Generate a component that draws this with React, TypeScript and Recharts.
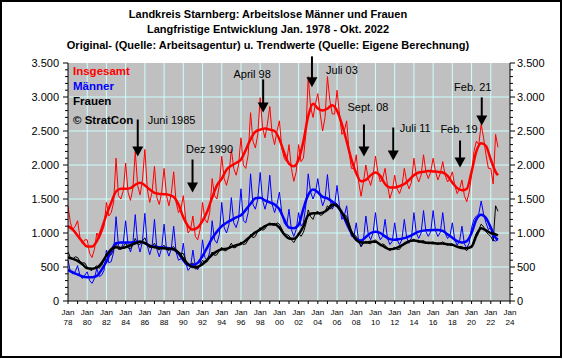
import React from 'react'
import { LineChart, Line, XAxis, YAxis, CartesianGrid, ReferenceDot } from 'recharts'

// monthly originals, sampled Jan / Apr / Jul / Oct, from Jan 1978 to Oct 2022
const rawTotal = [
  1400, 1150, 1050, 1100, // 1978
  1180, 930, 850, 900,
  900, 700, 640, 760, // 1980
  1000, 920, 1000, 1100,
  1450, 1250, 1300, 1450,
  2100, 1550, 1500, 1620,
  2030, 1600, 1480, 1650,
  2200, 1700, 1560, 1780, // 1985
  2230, 1650, 1450, 1600,
  1980, 1520, 1420, 1600,
  1950, 1550, 1400, 1580,
  1900, 1450, 1300, 1350,
  1550, 1200, 1000, 1050, // 1990
  1250, 950, 900, 1050,
  1450, 1200, 1150, 1300,
  1800, 1550, 1500, 1700,
  2130, 1800, 1700, 1850,
  2230, 1950, 1850, 2000, // 1995
  2400, 2000, 1950, 2150,
  2770, 2350, 2250, 2450,
  2990, 2550, 2400, 2600,
  2860, 2450, 2300, 2500,
  2650, 2250, 2100, 2050, // 2000
  2300, 1950, 1760, 1900,
  2300, 2050, 2100, 2450,
  3300, 2850, 2700, 2900,
  3050, 2750, 2500, 2700,
  3300, 2950, 2750, 2750, // 2005
  3100, 2750, 2450, 2500,
  2650, 2200, 1950, 1950,
  2150, 1750, 1540, 1750,
  2000, 1800, 1700, 1850,
  2130, 1900, 1750, 1800, // 2010
  1950, 1700, 1510, 1620,
  1850, 1650, 1580, 1680,
  1950, 1750, 1650, 1750,
  2100, 1850, 1750, 1850,
  2150, 1900, 1800, 1900, // 2015
  2100, 1900, 1780, 1880,
  2050, 1850, 1750, 1800,
  1900, 1700, 1580, 1650,
  1780, 1550, 1460, 1600,
  1850, 2200, 2350, 2300, // 2020
  2600, 2400, 2150, 1950,
  1950, 1720, 2450, 2260
]

const rawMen = [
  600, 430, 400, 430, // 1978
  520, 370, 330, 380,
  430, 300, 260, 330, // 1980
  480, 360, 380, 450,
  750, 560, 580, 720,
  1240, 820, 760, 850,
  1180, 830, 720, 850,
  1270, 850, 720, 880, // 1985
  1290, 820, 680, 800,
  1200, 760, 650, 780,
  1130, 760, 660, 770,
  1100, 720, 600, 620,
  850, 560, 450, 500, // 1990
  750, 500, 460, 530,
  900, 640, 600, 720,
  1180, 900, 850, 980,
  1450, 1080, 1000, 1120,
  1520, 1150, 1080, 1200, // 1995
  1650, 1180, 1150, 1300,
  1870, 1420, 1350, 1500,
  1890, 1480, 1350, 1480,
  1850, 1420, 1300, 1420,
  1600, 1300, 1150, 1100, // 2000
  1350, 1050, 950, 1050,
  1300, 1100, 1150, 1400,
  1870, 1600, 1500, 1600,
  1800, 1550, 1400, 1500,
  1860, 1500, 1350, 1420, // 2005
  1700, 1400, 1200, 1250,
  1400, 1100, 950, 950,
  1150, 880, 800, 900,
  1250, 980, 900, 1000,
  1300, 1000, 900, 950, // 2010
  1200, 920, 830, 880,
  1150, 900, 830, 900,
  1200, 930, 850, 930,
  1300, 1000, 920, 1000,
  1330, 1020, 950, 1020, // 2015
  1330, 1030, 950, 1010,
  1300, 1000, 920, 960,
  1150, 900, 820, 880,
  1100, 840, 780, 850,
  1080, 1200, 1250, 1280, // 2020
  1470, 1280, 1150, 1050,
  1080, 900, 880, 900
]

const rawWomen = [
  720, 640, 620, 650, // 1978
  640, 580, 560, 560,
  500, 460, 450, 490, // 1980
  520, 480, 520, 600,
  700, 660, 680, 760,
  850, 760, 760, 800,
  850, 780, 770, 830,
  920, 840, 830, 880, // 1985
  930, 830, 780, 810,
  850, 770, 750, 790,
  820, 760, 740, 780,
  800, 740, 720, 700,
  700, 600, 520, 540, // 1990
  560, 470, 480, 520,
  600, 560, 580, 650,
  720, 670, 680, 740,
  790, 740, 740, 790,
  850, 780, 790, 830, // 1995
  870, 830, 840, 900,
  980, 930, 950, 1030,
  1080, 1040, 1060, 1120,
  1150, 1120, 1110, 1150,
  1130, 1060, 990, 980, // 2000
  960, 900, 860, 920,
  1000, 950, 1010, 1130,
  1340, 1240, 1200, 1300,
  1320, 1260, 1270, 1310,
  1400, 1350, 1380, 1450, // 2005
  1430, 1360, 1290, 1270,
  1250, 1150, 1030, 980,
  950, 880, 800, 850,
  880, 850, 840, 880,
  900, 860, 820, 840, // 2010
  820, 770, 740, 770,
  790, 760, 760, 810,
  850, 850, 860, 890,
  910, 880, 860, 880,
  890, 860, 840, 860, // 2015
  870, 850, 830, 850,
  870, 840, 820, 840,
  840, 820, 790, 800,
  800, 770, 740, 790,
  780, 900, 1000, 1050, // 2020
  1130, 1090, 1020, 980,
  950, 880, 1400, 1320
]

// trend values, every half year from 1978.0 to 2022.5, last point Oct 2022
const trendTotal = [
  1100, 1050, 960, 870, 800, 800, 880, 1060, 1270, 1450,
  1610, 1650, 1650, 1660, 1710, 1740, 1700, 1640, 1590, 1575,
  1570, 1560, 1530, 1420, 1230, 1100, 1050, 1080, 1180, 1320,
  1520, 1700, 1800, 1930, 1990, 2030, 2080, 2220, 2380, 2490,
  2520, 2535, 2520, 2500, 2380, 2180, 2020, 1980, 2080, 2350,
  2720, 2900, 2830, 2800, 2830, 2880, 2800, 2600, 2350, 2080,
  1880, 1760, 1780, 1850, 1890, 1840, 1720, 1670, 1670, 1690,
  1720, 1780, 1850, 1890, 1900, 1910, 1905, 1900, 1890, 1840,
  1740, 1660, 1630, 1650, 1900, 2200, 2320, 2280, 2080, 1900,
  1850
]

const trendMen = [
  460, 420, 390, 360, 350, 350, 370, 460, 580, 740,
  850, 860, 860, 860, 865, 870, 850, 815, 800, 790,
  785, 775, 760, 700, 600, 530, 530, 560, 660, 790,
  920, 1020, 1100, 1150, 1190, 1230, 1260, 1340, 1430, 1510,
  1520, 1480, 1450, 1420, 1350, 1200, 1080, 1070, 1120, 1360,
  1560, 1640, 1600, 1530, 1510, 1460, 1400, 1300, 1140, 1000,
  910, 890, 940, 1000, 1020, 1000, 950, 910, 900, 910,
  925, 950, 985, 1020, 1035, 1040, 1045, 1045, 1030, 980,
  930, 880, 860, 880, 1000, 1200, 1270, 1220, 1080, 930,
  900
]

const trendWomen = [
  640, 620, 590, 540, 480, 475, 490, 560, 670, 760,
  790, 780, 790, 820, 850, 870, 850, 810, 790, 780,
  775, 770, 760, 710, 620, 540, 500, 505, 540, 610,
  680, 730, 760, 770, 795, 820, 840, 890, 950, 1010,
  1050, 1100, 1130, 1130, 1080, 980, 920, 915, 980, 1100,
  1260, 1290, 1290, 1300, 1340, 1420, 1400, 1300, 1180, 1010,
  900, 860, 860, 870, 870, 830, 790, 760, 770, 800,
  840, 880, 890, 880, 865, 855, 850, 845, 845, 835,
  825, 800, 780, 775, 800, 960, 1070, 1040, 1000, 980,
  965
]

const yTicks = Array.from({ length: 36 }, (_, i) => i * 100)
const yearTicks = Array.from({ length: 47 }, (_, i) => 1978 + i)
const gridValues = [500, 1000, 1500, 2000, 2500, 3000]
const gridYears = [1980, 1982, 1984, 1986, 1988, 1990, 1992, 1994, 1996, 1998, 2000,
  2002, 2004, 2006, 2008, 2010, 2012, 2014, 2016, 2018, 2020, 2022]

const titleLines = [
  'Landkreis Starnberg: Arbeitslose Männer und Frauen',
  'Langfristige Entwicklung Jan. 1978 - Okt. 2022',
  'Original- (Quelle: Arbeitsagentur) u. Trendwerte (Quelle: Eigene Berechnung)'
]

const legendItems = [
  { text: 'Insgesamt', color: '#ff0000' },
  { text: 'Männer', color: '#0000ff' },
  { text: 'Frauen', color: '#000000' },
  { text: '© StratCon', color: '#000000' }
]

// arrow annotations: label, time, value at arrow tip
const annoLabels = ['Juni 1985', 'Dez 1990', 'April 98', 'Juli 03', 'Sept. 08', 'Juli 11', 'Feb. 19', 'Feb. 21']
const annoTimes = [1985.26, 1990.96, 1998.31, 2003.39, 2008.8, 2011.85, 2018.8, 2021.06]
const annoTips = [2125, 1595, 2773, 3142, 2125, 2066, 1963, 2582]
// layout (px): shaft length, label offset from tip, anchor
const annoLayout = [
  { shaft: 37, dx: 10, dy: -37, anchor: 'start' },
  { shaft: 33, dx: 17, dy: -44, anchor: 'middle' },
  { shaft: 33, dx: -11, dy: -38, anchor: 'middle' },
  { shaft: 31, dx: 30, dy: -17, anchor: 'middle' },
  { shaft: 32, dx: 4, dy: -50, anchor: 'middle' },
  { shaft: 33, dx: 22, dy: -33, anchor: 'middle' },
  { shaft: 27, dx: -1, dy: -39, anchor: 'middle' },
  { shaft: 28, dx: -9, dy: -38, anchor: 'middle' }
]

const START = 1978
const FONT = '"Liberation Sans", Arial, sans-serif'

const rawRows = rawTotal.map((v, i) => ({
  t: START + i / 4,
  total: v,
  men: rawMen[i],
  women: rawWomen[i]
}))

const trendRows = trendTotal.map((v, i) => ({
  t: i < 90 ? START + i / 2 : 2022.75,
  total: v,
  men: trendMen[i],
  women: trendWomen[i]
}))

const fmt = (v: number) =>
  v >= 1000 ? `${Math.floor(v / 1000)}.${String(v % 1000).padStart(3, '0')}` : String(v)

const LeftTick = (props: any) => {
  const { x, y, payload } = props
  const major = payload.value % 500 === 0
  return (
    <g>
      <line x1={x - (major ? 5 : 3)} x2={x} y1={y} y2={y} stroke='#000' />
      {major && (
        <text x={x - 9} y={y} textAnchor='end' dominantBaseline='central'
          fontSize={11} fontFamily={FONT} fill='#000'>
          {fmt(payload.value)}
        </text>
      )}
    </g>
  )
}

const RightTick = (props: any) => {
  const { x, y, payload } = props
  const major = payload.value % 500 === 0
  return (
    <g>
      <line x1={x} x2={x + (major ? 5 : 3)} y1={y} y2={y} stroke='#000' />
      {major && (
        <text x={x + 7} y={y} textAnchor='start' dominantBaseline='central'
          fontSize={11} fontFamily={FONT} fill='#000'>
          {fmt(payload.value)}
        </text>
      )}
    </g>
  )
}

const BottomTick = (props: any) => {
  const { x, y, payload } = props
  const year = payload.value
  const labelled = year % 2 === 0
  return (
    <g>
      <line x1={x} x2={x} y1={y} y2={y + 3} stroke='#000' />
      {labelled && (
        <text x={x} textAnchor='middle' fontSize={8} fontFamily={FONT} fill='#000'>
          <tspan x={x} y={y + 14}>Jan</tspan>
          <tspan x={x} y={y + 24}>{String(year % 100).padStart(2, '0')}</tspan>
        </text>
      )}
    </g>
  )
}

const Arrow = ({ cx, cy, label, layout }: any) => {
  const { shaft, dx, dy, anchor } = layout
  return (
    <g>
      <line x1={cx} x2={cx} y1={cy - shaft} y2={cy - 8} stroke='#000' strokeWidth={2} />
      <path d={`M${cx - 5.5},${cy - 10} L${cx + 5.5},${cy - 10} L${cx},${cy} Z`} fill='#000' />
      <text x={cx + dx} y={cy + dy} textAnchor={anchor} dominantBaseline='central'
        fontSize={11} fontFamily={FONT} fill='#000'>
        {label}
      </text>
    </g>
  )
}

export default function App() {
  return (
    <div style={{ position: 'relative', width: 563, height: 359, background: '#fff', fontFamily: FONT }}>
      <style>{'body{margin:0}'}</style>
      <div style={{ position: 'absolute', left: 0, top: 0 }}>
        <LineChart width={563} height={359} margin={{ top: 63, right: 8, bottom: 8, left: 8 }}>
          <CartesianGrid
            yAxisId='l'
            fill='#c0c0c0'
            fillOpacity={1}
            stroke='#ccffff'
            strokeWidth={1}
            horizontalValues={gridValues}
            verticalValues={gridYears}
          />
          <XAxis
            dataKey='t'
            type='number'
            domain={[1978, 2024]}
            ticks={yearTicks}
            interval={0}
            allowDataOverflow
            tickSize={0}
            tickMargin={0}
            height={50}
            axisLine={{ stroke: '#000' }}
            tick={<BottomTick />}
          />
          <YAxis
            yAxisId='l'
            type='number'
            domain={[0, 3500]}
            ticks={yTicks}
            interval={0}
            allowDataOverflow
            tickSize={0}
            tickMargin={0}
            width={60}
            axisLine={{ stroke: '#000' }}
            tick={<LeftTick />}
          />
          <YAxis
            yAxisId='r'
            orientation='right'
            type='number'
            domain={[0, 3500]}
            ticks={yTicks}
            interval={0}
            allowDataOverflow
            tickSize={0}
            tickMargin={0}
            width={45}
            axisLine={{ stroke: '#000' }}
            tick={<RightTick />}
          />
          <Line yAxisId='l' data={rawRows} dataKey='total' type='linear' stroke='#ff0000'
            strokeWidth={1} dot={false} isAnimationActive={false} />
          <Line yAxisId='l' data={rawRows} dataKey='men' type='linear' stroke='#0000ff'
            strokeWidth={1} dot={false} isAnimationActive={false} />
          <Line yAxisId='l' data={rawRows} dataKey='women' type='linear' stroke='#000000'
            strokeWidth={1} dot={false} isAnimationActive={false} />
          <Line yAxisId='l' data={trendRows} dataKey='total' type='monotone' stroke='#ff0000'
            strokeWidth={2.5} dot={false} isAnimationActive={false} />
          <Line yAxisId='l' data={trendRows} dataKey='men' type='monotone' stroke='#0000ff'
            strokeWidth={2.5} dot={false} isAnimationActive={false} />
          <Line yAxisId='l' data={trendRows} dataKey='women' type='monotone' stroke='#000000'
            strokeWidth={2.5} dot={false} isAnimationActive={false} />
          {annoLabels.map((label, i) => (
            <ReferenceDot
              key={label}
              yAxisId='l'
              x={annoTimes[i]}
              y={annoTips[i]}
              r={0}
              ifOverflow='visible'
              shape={(p: any) => <Arrow cx={p.cx} cy={p.cy} label={label} layout={annoLayout[i]} />}
            />
          ))}
        </LineChart>
      </div>
      {titleLines.map((line, i) => (
        <div key={line} style={{
          position: 'absolute', left: 0, width: 536, top: 7 + i * 15.3, lineHeight: '15px',
          textAlign: 'center', fontSize: 11, fontWeight: 'bold', color: '#000', whiteSpace: 'nowrap'
        }}>
          {line}
        </div>
      ))}
      {legendItems.map((item, i) => (
        <div key={item.text} style={{
          position: 'absolute', left: 73, top: [63, 78, 93, 112][i], lineHeight: '16px',
          fontSize: 11.5, fontWeight: 'bold', color: item.color, whiteSpace: 'nowrap'
        }}>
          {item.text}
        </div>
      ))}
      <div style={{
        position: 'absolute', left: 0, top: 0, width: 562, height: 358,
        border: '2px solid #000', boxSizing: 'border-box', pointerEvents: 'none'
      }} />
    </div>
  )
}
